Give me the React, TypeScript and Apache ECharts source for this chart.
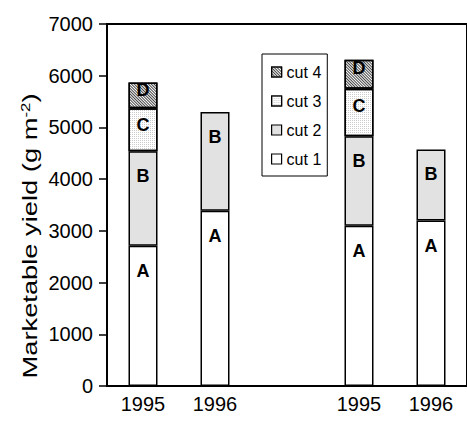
import React, { useEffect, useRef } from "react";
import * as echarts from "echarts";

const categories = ["1995", "1996", "", "1995", "1996"];
const seriesNames = ["cut 1", "cut 2", "cut 3", "cut 4"];
const segmentLetters = ["A", "B", "C", "D"];
const cut1 = [2710, 3390, "-", 3100, 3200];
const cut2 = [1830, 1910, "-", 1730, 1375];
const cut3 = [830, "-", "-", 920, "-"];
const cut4 = [500, "-", "-", 560, "-"];
const yMin = 0;
const yMax = 7000;
const yInterval = 1000;
const yTitle = "Marketable yield (g m";
const yTitleSup = "-2";

export default function App() {
  const ref = useRef<HTMLDivElement>(null);
  useEffect(() => {
    if (!ref.current) return;
    const chart = echarts.init(ref.current, null, { renderer: "svg" });
    const font = "Liberation Sans, Arial, sans-serif";
    const values = [cut1, cut2, cut3, cut4];
    const fills = ["#ffffff", "#e2e2e2", "#ffffff", "#ffffff"];
    const decals: any[] = [
      null,
      null,
      {
        symbol: "rect",
        symbolSize: 1,
        color: "#cccccc",
        dashArrayX: [1, 1],
        dashArrayY: [1, 1],
        rotation: 0,
      },
      {
        symbol: "rect",
        symbolSize: 1,
        color: "#444444",
        dashArrayX: [1, 0],
        dashArrayY: [1, 1],
        rotation: Math.PI / 4,
      },
    ];
    const labelDist = [16, 16, 8, -1];
    const series = values.map((v, i) => {
      const itemStyle: any = {
        color: fills[i],
        borderColor: "#000",
        borderWidth: 1.5,
      };
      if (decals[i]) itemStyle.decal = decals[i];
      return {
        name: seriesNames[i],
        type: "bar",
        stack: "total",
        barWidth: 29,
        data: v,
        itemStyle,
        label: {
          show: true,
          position: "insideTop",
          distance: labelDist[i],
          formatter: segmentLetters[i],
          fontFamily: font,
          fontWeight: "bold",
          fontSize: 18,
          color: "#000",
        },
      };
    });
    chart.setOption({
      animation: false,
      grid: {
        left: 107,
        top: 24,
        width: 365,
        height: 362,
        show: true,
        borderColor: "#000",
        borderWidth: 2,
        backgroundColor: "transparent",
      },
      legend: {
        data: [...seriesNames].reverse(),
        orient: "vertical",
        left: 262,
        top: 54,
        padding: [10, 6, 9, 9],
        itemWidth: 10,
        itemHeight: 10,
        itemGap: 13,
        borderColor: "#000",
        borderWidth: 1,
        backgroundColor: "#fff",
        icon: "rect",
        itemStyle: { borderColor: "#000", borderWidth: 1.2 },
        textStyle: { fontFamily: font, fontSize: 16, color: "#000" },
      },
      xAxis: {
        type: "category",
        data: categories,
        axisLine: { lineStyle: { color: "#000", width: 2 } },
        axisTick: { show: false },
        axisLabel: {
          fontFamily: font,
          fontSize: 20,
          color: "#000",
          margin: 8,
          interval: 0,
        },
      },
      yAxis: {
        type: "value",
        min: yMin,
        max: yMax,
        interval: yInterval,
        splitLine: { show: false },
        axisLine: { show: true, lineStyle: { color: "#000", width: 2 } },
        axisTick: { show: true, length: 8, lineStyle: { color: "#000", width: 1.5 } },
        axisLabel: {
          fontFamily: font,
          fontSize: 20,
          color: "#000",
          margin: 14,
          formatter: (v: number) => String(v),
        },
      },
      graphic: [
        {
          type: "text",
          x: 30,
          y: 236,
          rotation: Math.PI / 2,
          scaleX: 1.3,
          style: {
            text: "{a|" + yTitle + "}{s|" + yTitleSup + "}{a|)}",
            textAlign: "center",
            textVerticalAlign: "middle",
            fill: "#000",
            rich: {
              a: { fontFamily: font, fontSize: 21, color: "#000", lineHeight: 22 },
              s: {
                fontFamily: font,
                fontSize: 13,
                color: "#000",
                verticalAlign: "top",
                lineHeight: 22,
                padding: [0, 0, 10, 0],
              },
            },
          },
        },
      ],
      series,
    });
    return () => chart.dispose();
  }, []);
  return (
    <div
      ref={ref}
      style={{ position: "absolute", left: 0, top: 0, width: 467, height: 433 }}
    />
  );
}
